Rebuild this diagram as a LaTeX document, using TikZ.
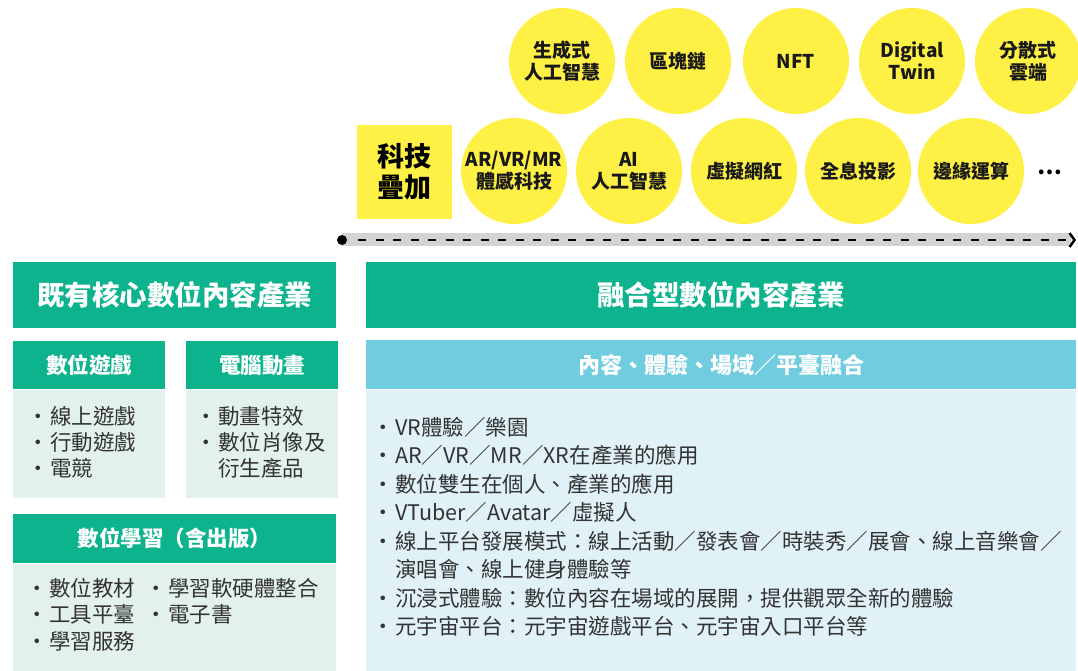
\documentclass[tikz,border=0pt]{standalone}
\usepackage{fontspec}
\setmainfont{Noto Sans CJK TC}
\usetikzlibrary{positioning,arrows.meta}

\definecolor{cgreen}{RGB}{13,179,140}
\definecolor{cmint}{RGB}{226,241,236}
\definecolor{ccyan}{RGB}{112,205,224}
\definecolor{cice}{RGB}{224,241,247}
\definecolor{cyellow}{RGB}{255,240,70}
\definecolor{cband}{RGB}{211,211,211}
\definecolor{ctext}{RGB}{51,51,51}
\newcommand{\itemdot}{\makebox[12pt][l]{\hspace{-10.75pt}·}}
\newcommand{\itemgap}{\hspace*{12pt}}
\tikzset{pixgrid/.style={x=1pt,y=-1pt}}
\tikzset{ball/.style={circle,fill=cyellow,minimum size=106pt,inner sep=0pt,align=center,
                      text=black!90,font=\bfseries\fontsize{19}{22}\selectfont},
         bighead/.style={fill=cgreen,text=white,anchor=north west,inner sep=0pt,
                      minimum height=66pt,font=\bfseries\fontsize{27.5}{30}\selectfont},
         subhead/.style={fill=cgreen,text=white,anchor=north west,inner sep=0pt,
                      minimum height=48pt,font=\bfseries\fontsize{21.5}{24}\selectfont},
         panel/.style={inner sep=0pt,fill=cmint},
         items/.style={anchor=north west,inner sep=0pt,align=left,text=ctext,
                      font=\fontsize{21.5}{26}\selectfont},
         timeline/.style={black,line width=1.6pt,dash pattern=on 8pt off 9.5pt,
                      -{Straight Barb[length=5pt,width=14pt,line width=2.4pt]}}}

\begin{document}
\begin{tikzpicture}[pixgrid]
    \useasboundingbox (0,0) rectangle (1078,670);
    % technology balls
    \foreach \n/\x/\t in {1/562/{生成式\\人工智慧},2/678/區塊鏈,3/796/NFT,4/912/{Digital\\Twin},5/1028/{分散式\\雲端}}
      \node[ball] (up\n) at (\x,61) {\t};
    \foreach \n/\x/\t in {1/629/{AI\\人工智慧},2/744/虛擬網紅,3/858/全息投影,4/971/邊緣運算,5/514/{AR/VR/MR\\體感科技}}
      \node[ball] (low\n) at (\x,171) {\t};
    \node[fill=cyellow,minimum width=95pt,minimum height=94pt,inner sep=0pt,align=center,
          font=\bfseries\fontsize{27}{31}\selectfont] (techadd) at (404.5,172) {科技\\疊加};
    \node[font=\bfseries\fontsize{22}{22}\selectfont] (more) at (1050,172) {…};
    % timeline
    \fill[cband] (342,233) rectangle (1071,246);
    \coordinate (tlstart) at (342,240);
    \coordinate (tlend) at (1076,240);
    \draw[timeline,shorten <=16pt] (tlstart) -- (tlend);
    \fill (tlstart) circle (5pt);
    % existing core industry
    \node[bighead,minimum width=323pt] (core) at (13,262) {既有核心數位內容產業};
    \node[subhead,minimum width=152pt] (game) at (13,341) {數位遊戲};
    \node[panel,minimum width=152pt,minimum height=108pt,below=0pt of game] (gamebox) {};
    \node[subhead,minimum width=152pt] (anim) at (186,341) {電腦動畫};
    \node[panel,minimum width=152pt,minimum height=108pt,below=0pt of anim] (animbox) {};
    \node[subhead,minimum width=323pt,minimum height=49pt] (learn) at (13,514) {數位學習（含出版）};
    \node[panel,minimum width=323pt,minimum height=107pt,below=0pt of learn] (learnbox) {};
    \node[items] (gamelist) at (38,406) {\itemdot 線上遊戲\\\itemdot 行動遊戲\\\itemdot 電競};
    \node[items] (animlist) at (206,406) {\itemdot 動畫特效\\\itemdot 數位肖像及\\\itemgap 衍生產品};
    \node[items,font=\fontsize{21.5}{26.5}\selectfont] (learnlist) at (37,578) {\itemdot 數位教材\\\itemdot 工具平臺\\\itemdot 學習服務};
    \node[items,font=\fontsize{21.5}{26.5}\selectfont] (learnlist2) at (156,578) {\itemdot 學習軟硬體整合\\\itemdot 電子書};
    % fusion industry
    \node[bighead,minimum width=710pt] (fusion) at (366,262) {融合型數位內容產業};
    \node[subhead,fill=ccyan,minimum width=710pt,minimum height=49pt,font=\bfseries\fontsize{22}{24}\selectfont] (merge) at (366,340) {內容、體驗、場域／平臺融合};
    \node[panel,fill=cice,minimum width=710pt,minimum height=281pt,below=0pt of merge] (mergebox) {};
    \node[items,font=\fontsize{21.5}{28.5}\selectfont] (mergelist) at (383,417)
      {\itemdot VR體驗／樂園\\
       \itemdot AR／VR／MR／XR在產業的應用\\
       \itemdot 數位雙生在個人、產業的應用\\
       \itemdot VTuber／Avatar／虛擬人\\
       \itemdot 線上平台發展模式：線上活動／發表會／時裝秀／展會、線上音樂會／\\
       \itemgap 演唱會、線上健身體驗等\\
       \itemdot 沉浸式體驗：數位內容在場域的展開，提供觀眾全新的體驗\\
       \itemdot 元宇宙平台：元宇宙遊戲平台、元宇宙入口平台等};
  \end{tikzpicture}
\end{document}
